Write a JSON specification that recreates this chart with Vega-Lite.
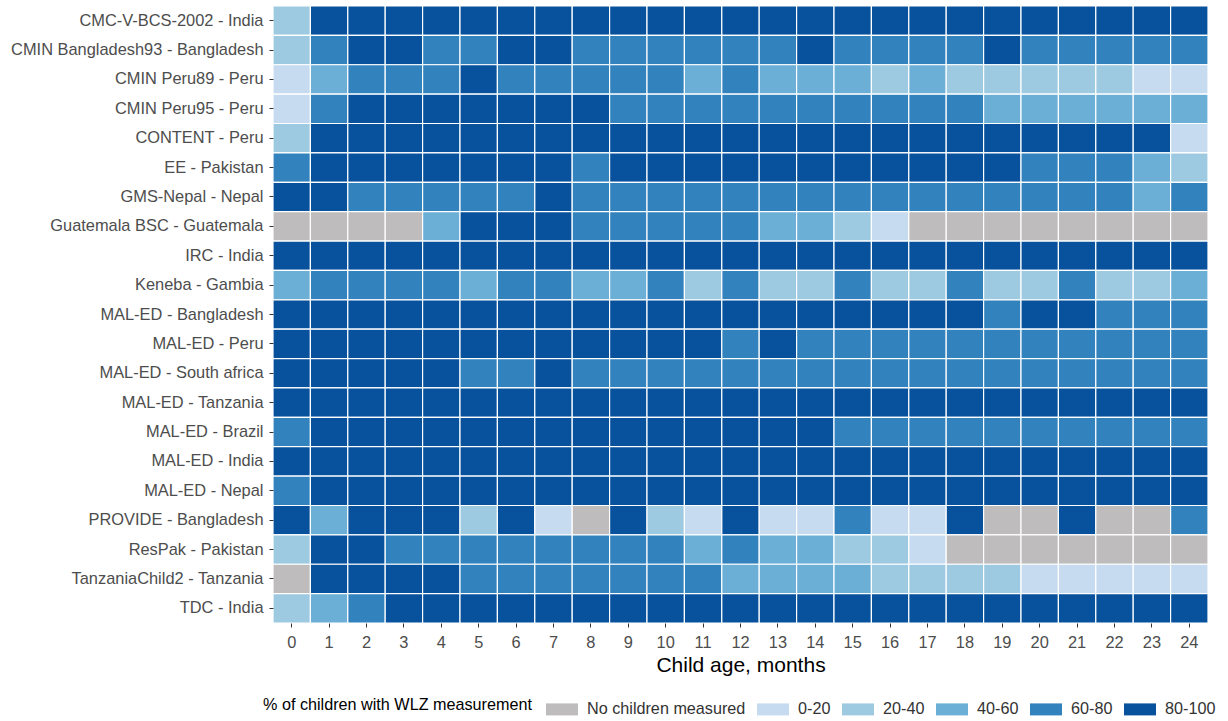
{
"$schema": "https://vega.github.io/schema/vega-lite/v6.json",
"width": 935, "height": 617,
"padding": {"left": 10, "top": 5, "right": 5, "bottom": 5},
"background": "white",
"config": {"view": {"stroke": null}, "font": "Liberation Sans"},
"data": {"values": [
{"study":"CMC-V-BCS-2002 - India","age":0,"pct":"20-40"},{"study":"CMC-V-BCS-2002 - India","age":1,"pct":"80-100"},{"study":"CMC-V-BCS-2002 - India","age":2,"pct":"80-100"},{"study":"CMC-V-BCS-2002 - India","age":3,"pct":"80-100"},{"study":"CMC-V-BCS-2002 - India","age":4,"pct":"80-100"},{"study":"CMC-V-BCS-2002 - India","age":5,"pct":"80-100"},{"study":"CMC-V-BCS-2002 - India","age":6,"pct":"80-100"},{"study":"CMC-V-BCS-2002 - India","age":7,"pct":"80-100"},{"study":"CMC-V-BCS-2002 - India","age":8,"pct":"80-100"},{"study":"CMC-V-BCS-2002 - India","age":9,"pct":"80-100"},{"study":"CMC-V-BCS-2002 - India","age":10,"pct":"80-100"},{"study":"CMC-V-BCS-2002 - India","age":11,"pct":"80-100"},{"study":"CMC-V-BCS-2002 - India","age":12,"pct":"80-100"},{"study":"CMC-V-BCS-2002 - India","age":13,"pct":"80-100"},{"study":"CMC-V-BCS-2002 - India","age":14,"pct":"80-100"},{"study":"CMC-V-BCS-2002 - India","age":15,"pct":"80-100"},{"study":"CMC-V-BCS-2002 - India","age":16,"pct":"80-100"},{"study":"CMC-V-BCS-2002 - India","age":17,"pct":"80-100"},{"study":"CMC-V-BCS-2002 - India","age":18,"pct":"80-100"},{"study":"CMC-V-BCS-2002 - India","age":19,"pct":"80-100"},{"study":"CMC-V-BCS-2002 - India","age":20,"pct":"80-100"},{"study":"CMC-V-BCS-2002 - India","age":21,"pct":"80-100"},{"study":"CMC-V-BCS-2002 - India","age":22,"pct":"80-100"},{"study":"CMC-V-BCS-2002 - India","age":23,"pct":"80-100"},{"study":"CMC-V-BCS-2002 - India","age":24,"pct":"80-100"},
{"study":"CMIN Bangladesh93 - Bangladesh","age":0,"pct":"20-40"},{"study":"CMIN Bangladesh93 - Bangladesh","age":1,"pct":"60-80"},{"study":"CMIN Bangladesh93 - Bangladesh","age":2,"pct":"80-100"},{"study":"CMIN Bangladesh93 - Bangladesh","age":3,"pct":"80-100"},{"study":"CMIN Bangladesh93 - Bangladesh","age":4,"pct":"60-80"},{"study":"CMIN Bangladesh93 - Bangladesh","age":5,"pct":"60-80"},{"study":"CMIN Bangladesh93 - Bangladesh","age":6,"pct":"80-100"},{"study":"CMIN Bangladesh93 - Bangladesh","age":7,"pct":"80-100"},{"study":"CMIN Bangladesh93 - Bangladesh","age":8,"pct":"60-80"},{"study":"CMIN Bangladesh93 - Bangladesh","age":9,"pct":"60-80"},{"study":"CMIN Bangladesh93 - Bangladesh","age":10,"pct":"60-80"},{"study":"CMIN Bangladesh93 - Bangladesh","age":11,"pct":"60-80"},{"study":"CMIN Bangladesh93 - Bangladesh","age":12,"pct":"60-80"},{"study":"CMIN Bangladesh93 - Bangladesh","age":13,"pct":"60-80"},{"study":"CMIN Bangladesh93 - Bangladesh","age":14,"pct":"80-100"},{"study":"CMIN Bangladesh93 - Bangladesh","age":15,"pct":"60-80"},{"study":"CMIN Bangladesh93 - Bangladesh","age":16,"pct":"60-80"},{"study":"CMIN Bangladesh93 - Bangladesh","age":17,"pct":"60-80"},{"study":"CMIN Bangladesh93 - Bangladesh","age":18,"pct":"60-80"},{"study":"CMIN Bangladesh93 - Bangladesh","age":19,"pct":"80-100"},{"study":"CMIN Bangladesh93 - Bangladesh","age":20,"pct":"60-80"},{"study":"CMIN Bangladesh93 - Bangladesh","age":21,"pct":"60-80"},{"study":"CMIN Bangladesh93 - Bangladesh","age":22,"pct":"60-80"},{"study":"CMIN Bangladesh93 - Bangladesh","age":23,"pct":"60-80"},{"study":"CMIN Bangladesh93 - Bangladesh","age":24,"pct":"60-80"},
{"study":"CMIN Peru89 - Peru","age":0,"pct":"0-20"},{"study":"CMIN Peru89 - Peru","age":1,"pct":"40-60"},{"study":"CMIN Peru89 - Peru","age":2,"pct":"60-80"},{"study":"CMIN Peru89 - Peru","age":3,"pct":"60-80"},{"study":"CMIN Peru89 - Peru","age":4,"pct":"60-80"},{"study":"CMIN Peru89 - Peru","age":5,"pct":"80-100"},{"study":"CMIN Peru89 - Peru","age":6,"pct":"60-80"},{"study":"CMIN Peru89 - Peru","age":7,"pct":"60-80"},{"study":"CMIN Peru89 - Peru","age":8,"pct":"60-80"},{"study":"CMIN Peru89 - Peru","age":9,"pct":"60-80"},{"study":"CMIN Peru89 - Peru","age":10,"pct":"60-80"},{"study":"CMIN Peru89 - Peru","age":11,"pct":"40-60"},{"study":"CMIN Peru89 - Peru","age":12,"pct":"60-80"},{"study":"CMIN Peru89 - Peru","age":13,"pct":"40-60"},{"study":"CMIN Peru89 - Peru","age":14,"pct":"40-60"},{"study":"CMIN Peru89 - Peru","age":15,"pct":"40-60"},{"study":"CMIN Peru89 - Peru","age":16,"pct":"20-40"},{"study":"CMIN Peru89 - Peru","age":17,"pct":"40-60"},{"study":"CMIN Peru89 - Peru","age":18,"pct":"20-40"},{"study":"CMIN Peru89 - Peru","age":19,"pct":"20-40"},{"study":"CMIN Peru89 - Peru","age":20,"pct":"20-40"},{"study":"CMIN Peru89 - Peru","age":21,"pct":"20-40"},{"study":"CMIN Peru89 - Peru","age":22,"pct":"20-40"},{"study":"CMIN Peru89 - Peru","age":23,"pct":"0-20"},{"study":"CMIN Peru89 - Peru","age":24,"pct":"0-20"},
{"study":"CMIN Peru95 - Peru","age":0,"pct":"0-20"},{"study":"CMIN Peru95 - Peru","age":1,"pct":"60-80"},{"study":"CMIN Peru95 - Peru","age":2,"pct":"80-100"},{"study":"CMIN Peru95 - Peru","age":3,"pct":"80-100"},{"study":"CMIN Peru95 - Peru","age":4,"pct":"80-100"},{"study":"CMIN Peru95 - Peru","age":5,"pct":"80-100"},{"study":"CMIN Peru95 - Peru","age":6,"pct":"80-100"},{"study":"CMIN Peru95 - Peru","age":7,"pct":"80-100"},{"study":"CMIN Peru95 - Peru","age":8,"pct":"80-100"},{"study":"CMIN Peru95 - Peru","age":9,"pct":"60-80"},{"study":"CMIN Peru95 - Peru","age":10,"pct":"60-80"},{"study":"CMIN Peru95 - Peru","age":11,"pct":"60-80"},{"study":"CMIN Peru95 - Peru","age":12,"pct":"60-80"},{"study":"CMIN Peru95 - Peru","age":13,"pct":"60-80"},{"study":"CMIN Peru95 - Peru","age":14,"pct":"60-80"},{"study":"CMIN Peru95 - Peru","age":15,"pct":"60-80"},{"study":"CMIN Peru95 - Peru","age":16,"pct":"60-80"},{"study":"CMIN Peru95 - Peru","age":17,"pct":"60-80"},{"study":"CMIN Peru95 - Peru","age":18,"pct":"60-80"},{"study":"CMIN Peru95 - Peru","age":19,"pct":"40-60"},{"study":"CMIN Peru95 - Peru","age":20,"pct":"40-60"},{"study":"CMIN Peru95 - Peru","age":21,"pct":"40-60"},{"study":"CMIN Peru95 - Peru","age":22,"pct":"40-60"},{"study":"CMIN Peru95 - Peru","age":23,"pct":"40-60"},{"study":"CMIN Peru95 - Peru","age":24,"pct":"40-60"},
{"study":"CONTENT - Peru","age":0,"pct":"20-40"},{"study":"CONTENT - Peru","age":1,"pct":"80-100"},{"study":"CONTENT - Peru","age":2,"pct":"80-100"},{"study":"CONTENT - Peru","age":3,"pct":"80-100"},{"study":"CONTENT - Peru","age":4,"pct":"80-100"},{"study":"CONTENT - Peru","age":5,"pct":"80-100"},{"study":"CONTENT - Peru","age":6,"pct":"80-100"},{"study":"CONTENT - Peru","age":7,"pct":"80-100"},{"study":"CONTENT - Peru","age":8,"pct":"80-100"},{"study":"CONTENT - Peru","age":9,"pct":"80-100"},{"study":"CONTENT - Peru","age":10,"pct":"80-100"},{"study":"CONTENT - Peru","age":11,"pct":"80-100"},{"study":"CONTENT - Peru","age":12,"pct":"80-100"},{"study":"CONTENT - Peru","age":13,"pct":"80-100"},{"study":"CONTENT - Peru","age":14,"pct":"80-100"},{"study":"CONTENT - Peru","age":15,"pct":"80-100"},{"study":"CONTENT - Peru","age":16,"pct":"80-100"},{"study":"CONTENT - Peru","age":17,"pct":"80-100"},{"study":"CONTENT - Peru","age":18,"pct":"80-100"},{"study":"CONTENT - Peru","age":19,"pct":"80-100"},{"study":"CONTENT - Peru","age":20,"pct":"80-100"},{"study":"CONTENT - Peru","age":21,"pct":"80-100"},{"study":"CONTENT - Peru","age":22,"pct":"80-100"},{"study":"CONTENT - Peru","age":23,"pct":"80-100"},{"study":"CONTENT - Peru","age":24,"pct":"0-20"},
{"study":"EE - Pakistan","age":0,"pct":"60-80"},{"study":"EE - Pakistan","age":1,"pct":"80-100"},{"study":"EE - Pakistan","age":2,"pct":"80-100"},{"study":"EE - Pakistan","age":3,"pct":"80-100"},{"study":"EE - Pakistan","age":4,"pct":"80-100"},{"study":"EE - Pakistan","age":5,"pct":"80-100"},{"study":"EE - Pakistan","age":6,"pct":"80-100"},{"study":"EE - Pakistan","age":7,"pct":"80-100"},{"study":"EE - Pakistan","age":8,"pct":"60-80"},{"study":"EE - Pakistan","age":9,"pct":"80-100"},{"study":"EE - Pakistan","age":10,"pct":"80-100"},{"study":"EE - Pakistan","age":11,"pct":"80-100"},{"study":"EE - Pakistan","age":12,"pct":"80-100"},{"study":"EE - Pakistan","age":13,"pct":"80-100"},{"study":"EE - Pakistan","age":14,"pct":"80-100"},{"study":"EE - Pakistan","age":15,"pct":"80-100"},{"study":"EE - Pakistan","age":16,"pct":"80-100"},{"study":"EE - Pakistan","age":17,"pct":"80-100"},{"study":"EE - Pakistan","age":18,"pct":"80-100"},{"study":"EE - Pakistan","age":19,"pct":"80-100"},{"study":"EE - Pakistan","age":20,"pct":"60-80"},{"study":"EE - Pakistan","age":21,"pct":"60-80"},{"study":"EE - Pakistan","age":22,"pct":"60-80"},{"study":"EE - Pakistan","age":23,"pct":"40-60"},{"study":"EE - Pakistan","age":24,"pct":"20-40"},
{"study":"GMS-Nepal - Nepal","age":0,"pct":"80-100"},{"study":"GMS-Nepal - Nepal","age":1,"pct":"80-100"},{"study":"GMS-Nepal - Nepal","age":2,"pct":"60-80"},{"study":"GMS-Nepal - Nepal","age":3,"pct":"60-80"},{"study":"GMS-Nepal - Nepal","age":4,"pct":"60-80"},{"study":"GMS-Nepal - Nepal","age":5,"pct":"60-80"},{"study":"GMS-Nepal - Nepal","age":6,"pct":"60-80"},{"study":"GMS-Nepal - Nepal","age":7,"pct":"80-100"},{"study":"GMS-Nepal - Nepal","age":8,"pct":"60-80"},{"study":"GMS-Nepal - Nepal","age":9,"pct":"60-80"},{"study":"GMS-Nepal - Nepal","age":10,"pct":"60-80"},{"study":"GMS-Nepal - Nepal","age":11,"pct":"60-80"},{"study":"GMS-Nepal - Nepal","age":12,"pct":"60-80"},{"study":"GMS-Nepal - Nepal","age":13,"pct":"60-80"},{"study":"GMS-Nepal - Nepal","age":14,"pct":"60-80"},{"study":"GMS-Nepal - Nepal","age":15,"pct":"60-80"},{"study":"GMS-Nepal - Nepal","age":16,"pct":"60-80"},{"study":"GMS-Nepal - Nepal","age":17,"pct":"60-80"},{"study":"GMS-Nepal - Nepal","age":18,"pct":"60-80"},{"study":"GMS-Nepal - Nepal","age":19,"pct":"60-80"},{"study":"GMS-Nepal - Nepal","age":20,"pct":"60-80"},{"study":"GMS-Nepal - Nepal","age":21,"pct":"60-80"},{"study":"GMS-Nepal - Nepal","age":22,"pct":"60-80"},{"study":"GMS-Nepal - Nepal","age":23,"pct":"40-60"},{"study":"GMS-Nepal - Nepal","age":24,"pct":"60-80"},
{"study":"Guatemala BSC - Guatemala","age":0,"pct":"none"},{"study":"Guatemala BSC - Guatemala","age":1,"pct":"none"},{"study":"Guatemala BSC - Guatemala","age":2,"pct":"none"},{"study":"Guatemala BSC - Guatemala","age":3,"pct":"none"},{"study":"Guatemala BSC - Guatemala","age":4,"pct":"40-60"},{"study":"Guatemala BSC - Guatemala","age":5,"pct":"80-100"},{"study":"Guatemala BSC - Guatemala","age":6,"pct":"80-100"},{"study":"Guatemala BSC - Guatemala","age":7,"pct":"80-100"},{"study":"Guatemala BSC - Guatemala","age":8,"pct":"60-80"},{"study":"Guatemala BSC - Guatemala","age":9,"pct":"60-80"},{"study":"Guatemala BSC - Guatemala","age":10,"pct":"60-80"},{"study":"Guatemala BSC - Guatemala","age":11,"pct":"60-80"},{"study":"Guatemala BSC - Guatemala","age":12,"pct":"60-80"},{"study":"Guatemala BSC - Guatemala","age":13,"pct":"40-60"},{"study":"Guatemala BSC - Guatemala","age":14,"pct":"40-60"},{"study":"Guatemala BSC - Guatemala","age":15,"pct":"20-40"},{"study":"Guatemala BSC - Guatemala","age":16,"pct":"0-20"},{"study":"Guatemala BSC - Guatemala","age":17,"pct":"none"},{"study":"Guatemala BSC - Guatemala","age":18,"pct":"none"},{"study":"Guatemala BSC - Guatemala","age":19,"pct":"none"},{"study":"Guatemala BSC - Guatemala","age":20,"pct":"none"},{"study":"Guatemala BSC - Guatemala","age":21,"pct":"none"},{"study":"Guatemala BSC - Guatemala","age":22,"pct":"none"},{"study":"Guatemala BSC - Guatemala","age":23,"pct":"none"},{"study":"Guatemala BSC - Guatemala","age":24,"pct":"none"},
{"study":"IRC - India","age":0,"pct":"80-100"},{"study":"IRC - India","age":1,"pct":"80-100"},{"study":"IRC - India","age":2,"pct":"80-100"},{"study":"IRC - India","age":3,"pct":"80-100"},{"study":"IRC - India","age":4,"pct":"80-100"},{"study":"IRC - India","age":5,"pct":"80-100"},{"study":"IRC - India","age":6,"pct":"80-100"},{"study":"IRC - India","age":7,"pct":"80-100"},{"study":"IRC - India","age":8,"pct":"80-100"},{"study":"IRC - India","age":9,"pct":"80-100"},{"study":"IRC - India","age":10,"pct":"80-100"},{"study":"IRC - India","age":11,"pct":"80-100"},{"study":"IRC - India","age":12,"pct":"80-100"},{"study":"IRC - India","age":13,"pct":"80-100"},{"study":"IRC - India","age":14,"pct":"80-100"},{"study":"IRC - India","age":15,"pct":"80-100"},{"study":"IRC - India","age":16,"pct":"80-100"},{"study":"IRC - India","age":17,"pct":"80-100"},{"study":"IRC - India","age":18,"pct":"80-100"},{"study":"IRC - India","age":19,"pct":"80-100"},{"study":"IRC - India","age":20,"pct":"80-100"},{"study":"IRC - India","age":21,"pct":"80-100"},{"study":"IRC - India","age":22,"pct":"80-100"},{"study":"IRC - India","age":23,"pct":"80-100"},{"study":"IRC - India","age":24,"pct":"80-100"},
{"study":"Keneba - Gambia","age":0,"pct":"40-60"},{"study":"Keneba - Gambia","age":1,"pct":"60-80"},{"study":"Keneba - Gambia","age":2,"pct":"60-80"},{"study":"Keneba - Gambia","age":3,"pct":"60-80"},{"study":"Keneba - Gambia","age":4,"pct":"60-80"},{"study":"Keneba - Gambia","age":5,"pct":"40-60"},{"study":"Keneba - Gambia","age":6,"pct":"60-80"},{"study":"Keneba - Gambia","age":7,"pct":"60-80"},{"study":"Keneba - Gambia","age":8,"pct":"40-60"},{"study":"Keneba - Gambia","age":9,"pct":"40-60"},{"study":"Keneba - Gambia","age":10,"pct":"60-80"},{"study":"Keneba - Gambia","age":11,"pct":"20-40"},{"study":"Keneba - Gambia","age":12,"pct":"60-80"},{"study":"Keneba - Gambia","age":13,"pct":"20-40"},{"study":"Keneba - Gambia","age":14,"pct":"20-40"},{"study":"Keneba - Gambia","age":15,"pct":"60-80"},{"study":"Keneba - Gambia","age":16,"pct":"20-40"},{"study":"Keneba - Gambia","age":17,"pct":"20-40"},{"study":"Keneba - Gambia","age":18,"pct":"60-80"},{"study":"Keneba - Gambia","age":19,"pct":"20-40"},{"study":"Keneba - Gambia","age":20,"pct":"20-40"},{"study":"Keneba - Gambia","age":21,"pct":"60-80"},{"study":"Keneba - Gambia","age":22,"pct":"20-40"},{"study":"Keneba - Gambia","age":23,"pct":"20-40"},{"study":"Keneba - Gambia","age":24,"pct":"40-60"},
{"study":"MAL-ED - Bangladesh","age":0,"pct":"80-100"},{"study":"MAL-ED - Bangladesh","age":1,"pct":"80-100"},{"study":"MAL-ED - Bangladesh","age":2,"pct":"80-100"},{"study":"MAL-ED - Bangladesh","age":3,"pct":"80-100"},{"study":"MAL-ED - Bangladesh","age":4,"pct":"80-100"},{"study":"MAL-ED - Bangladesh","age":5,"pct":"80-100"},{"study":"MAL-ED - Bangladesh","age":6,"pct":"80-100"},{"study":"MAL-ED - Bangladesh","age":7,"pct":"80-100"},{"study":"MAL-ED - Bangladesh","age":8,"pct":"80-100"},{"study":"MAL-ED - Bangladesh","age":9,"pct":"80-100"},{"study":"MAL-ED - Bangladesh","age":10,"pct":"80-100"},{"study":"MAL-ED - Bangladesh","age":11,"pct":"80-100"},{"study":"MAL-ED - Bangladesh","age":12,"pct":"80-100"},{"study":"MAL-ED - Bangladesh","age":13,"pct":"80-100"},{"study":"MAL-ED - Bangladesh","age":14,"pct":"80-100"},{"study":"MAL-ED - Bangladesh","age":15,"pct":"80-100"},{"study":"MAL-ED - Bangladesh","age":16,"pct":"80-100"},{"study":"MAL-ED - Bangladesh","age":17,"pct":"80-100"},{"study":"MAL-ED - Bangladesh","age":18,"pct":"80-100"},{"study":"MAL-ED - Bangladesh","age":19,"pct":"60-80"},{"study":"MAL-ED - Bangladesh","age":20,"pct":"80-100"},{"study":"MAL-ED - Bangladesh","age":21,"pct":"80-100"},{"study":"MAL-ED - Bangladesh","age":22,"pct":"60-80"},{"study":"MAL-ED - Bangladesh","age":23,"pct":"60-80"},{"study":"MAL-ED - Bangladesh","age":24,"pct":"60-80"},
{"study":"MAL-ED - Peru","age":0,"pct":"80-100"},{"study":"MAL-ED - Peru","age":1,"pct":"80-100"},{"study":"MAL-ED - Peru","age":2,"pct":"80-100"},{"study":"MAL-ED - Peru","age":3,"pct":"80-100"},{"study":"MAL-ED - Peru","age":4,"pct":"80-100"},{"study":"MAL-ED - Peru","age":5,"pct":"80-100"},{"study":"MAL-ED - Peru","age":6,"pct":"80-100"},{"study":"MAL-ED - Peru","age":7,"pct":"80-100"},{"study":"MAL-ED - Peru","age":8,"pct":"80-100"},{"study":"MAL-ED - Peru","age":9,"pct":"80-100"},{"study":"MAL-ED - Peru","age":10,"pct":"80-100"},{"study":"MAL-ED - Peru","age":11,"pct":"80-100"},{"study":"MAL-ED - Peru","age":12,"pct":"60-80"},{"study":"MAL-ED - Peru","age":13,"pct":"80-100"},{"study":"MAL-ED - Peru","age":14,"pct":"60-80"},{"study":"MAL-ED - Peru","age":15,"pct":"60-80"},{"study":"MAL-ED - Peru","age":16,"pct":"60-80"},{"study":"MAL-ED - Peru","age":17,"pct":"60-80"},{"study":"MAL-ED - Peru","age":18,"pct":"60-80"},{"study":"MAL-ED - Peru","age":19,"pct":"60-80"},{"study":"MAL-ED - Peru","age":20,"pct":"60-80"},{"study":"MAL-ED - Peru","age":21,"pct":"60-80"},{"study":"MAL-ED - Peru","age":22,"pct":"60-80"},{"study":"MAL-ED - Peru","age":23,"pct":"60-80"},{"study":"MAL-ED - Peru","age":24,"pct":"60-80"},
{"study":"MAL-ED - South africa","age":0,"pct":"80-100"},{"study":"MAL-ED - South africa","age":1,"pct":"80-100"},{"study":"MAL-ED - South africa","age":2,"pct":"80-100"},{"study":"MAL-ED - South africa","age":3,"pct":"80-100"},{"study":"MAL-ED - South africa","age":4,"pct":"80-100"},{"study":"MAL-ED - South africa","age":5,"pct":"60-80"},{"study":"MAL-ED - South africa","age":6,"pct":"60-80"},{"study":"MAL-ED - South africa","age":7,"pct":"80-100"},{"study":"MAL-ED - South africa","age":8,"pct":"60-80"},{"study":"MAL-ED - South africa","age":9,"pct":"60-80"},{"study":"MAL-ED - South africa","age":10,"pct":"60-80"},{"study":"MAL-ED - South africa","age":11,"pct":"60-80"},{"study":"MAL-ED - South africa","age":12,"pct":"60-80"},{"study":"MAL-ED - South africa","age":13,"pct":"60-80"},{"study":"MAL-ED - South africa","age":14,"pct":"60-80"},{"study":"MAL-ED - South africa","age":15,"pct":"60-80"},{"study":"MAL-ED - South africa","age":16,"pct":"60-80"},{"study":"MAL-ED - South africa","age":17,"pct":"60-80"},{"study":"MAL-ED - South africa","age":18,"pct":"60-80"},{"study":"MAL-ED - South africa","age":19,"pct":"60-80"},{"study":"MAL-ED - South africa","age":20,"pct":"60-80"},{"study":"MAL-ED - South africa","age":21,"pct":"60-80"},{"study":"MAL-ED - South africa","age":22,"pct":"60-80"},{"study":"MAL-ED - South africa","age":23,"pct":"60-80"},{"study":"MAL-ED - South africa","age":24,"pct":"60-80"},
{"study":"MAL-ED - Tanzania","age":0,"pct":"80-100"},{"study":"MAL-ED - Tanzania","age":1,"pct":"80-100"},{"study":"MAL-ED - Tanzania","age":2,"pct":"80-100"},{"study":"MAL-ED - Tanzania","age":3,"pct":"80-100"},{"study":"MAL-ED - Tanzania","age":4,"pct":"80-100"},{"study":"MAL-ED - Tanzania","age":5,"pct":"80-100"},{"study":"MAL-ED - Tanzania","age":6,"pct":"80-100"},{"study":"MAL-ED - Tanzania","age":7,"pct":"80-100"},{"study":"MAL-ED - Tanzania","age":8,"pct":"80-100"},{"study":"MAL-ED - Tanzania","age":9,"pct":"80-100"},{"study":"MAL-ED - Tanzania","age":10,"pct":"80-100"},{"study":"MAL-ED - Tanzania","age":11,"pct":"80-100"},{"study":"MAL-ED - Tanzania","age":12,"pct":"80-100"},{"study":"MAL-ED - Tanzania","age":13,"pct":"80-100"},{"study":"MAL-ED - Tanzania","age":14,"pct":"80-100"},{"study":"MAL-ED - Tanzania","age":15,"pct":"80-100"},{"study":"MAL-ED - Tanzania","age":16,"pct":"80-100"},{"study":"MAL-ED - Tanzania","age":17,"pct":"80-100"},{"study":"MAL-ED - Tanzania","age":18,"pct":"80-100"},{"study":"MAL-ED - Tanzania","age":19,"pct":"80-100"},{"study":"MAL-ED - Tanzania","age":20,"pct":"80-100"},{"study":"MAL-ED - Tanzania","age":21,"pct":"80-100"},{"study":"MAL-ED - Tanzania","age":22,"pct":"80-100"},{"study":"MAL-ED - Tanzania","age":23,"pct":"80-100"},{"study":"MAL-ED - Tanzania","age":24,"pct":"80-100"},
{"study":"MAL-ED - Brazil","age":0,"pct":"60-80"},{"study":"MAL-ED - Brazil","age":1,"pct":"80-100"},{"study":"MAL-ED - Brazil","age":2,"pct":"80-100"},{"study":"MAL-ED - Brazil","age":3,"pct":"80-100"},{"study":"MAL-ED - Brazil","age":4,"pct":"80-100"},{"study":"MAL-ED - Brazil","age":5,"pct":"80-100"},{"study":"MAL-ED - Brazil","age":6,"pct":"80-100"},{"study":"MAL-ED - Brazil","age":7,"pct":"80-100"},{"study":"MAL-ED - Brazil","age":8,"pct":"80-100"},{"study":"MAL-ED - Brazil","age":9,"pct":"80-100"},{"study":"MAL-ED - Brazil","age":10,"pct":"80-100"},{"study":"MAL-ED - Brazil","age":11,"pct":"80-100"},{"study":"MAL-ED - Brazil","age":12,"pct":"80-100"},{"study":"MAL-ED - Brazil","age":13,"pct":"80-100"},{"study":"MAL-ED - Brazil","age":14,"pct":"80-100"},{"study":"MAL-ED - Brazil","age":15,"pct":"60-80"},{"study":"MAL-ED - Brazil","age":16,"pct":"60-80"},{"study":"MAL-ED - Brazil","age":17,"pct":"60-80"},{"study":"MAL-ED - Brazil","age":18,"pct":"60-80"},{"study":"MAL-ED - Brazil","age":19,"pct":"60-80"},{"study":"MAL-ED - Brazil","age":20,"pct":"60-80"},{"study":"MAL-ED - Brazil","age":21,"pct":"60-80"},{"study":"MAL-ED - Brazil","age":22,"pct":"60-80"},{"study":"MAL-ED - Brazil","age":23,"pct":"60-80"},{"study":"MAL-ED - Brazil","age":24,"pct":"60-80"},
{"study":"MAL-ED - India","age":0,"pct":"80-100"},{"study":"MAL-ED - India","age":1,"pct":"80-100"},{"study":"MAL-ED - India","age":2,"pct":"80-100"},{"study":"MAL-ED - India","age":3,"pct":"80-100"},{"study":"MAL-ED - India","age":4,"pct":"80-100"},{"study":"MAL-ED - India","age":5,"pct":"80-100"},{"study":"MAL-ED - India","age":6,"pct":"80-100"},{"study":"MAL-ED - India","age":7,"pct":"80-100"},{"study":"MAL-ED - India","age":8,"pct":"80-100"},{"study":"MAL-ED - India","age":9,"pct":"80-100"},{"study":"MAL-ED - India","age":10,"pct":"80-100"},{"study":"MAL-ED - India","age":11,"pct":"80-100"},{"study":"MAL-ED - India","age":12,"pct":"80-100"},{"study":"MAL-ED - India","age":13,"pct":"80-100"},{"study":"MAL-ED - India","age":14,"pct":"80-100"},{"study":"MAL-ED - India","age":15,"pct":"80-100"},{"study":"MAL-ED - India","age":16,"pct":"80-100"},{"study":"MAL-ED - India","age":17,"pct":"80-100"},{"study":"MAL-ED - India","age":18,"pct":"80-100"},{"study":"MAL-ED - India","age":19,"pct":"80-100"},{"study":"MAL-ED - India","age":20,"pct":"80-100"},{"study":"MAL-ED - India","age":21,"pct":"80-100"},{"study":"MAL-ED - India","age":22,"pct":"80-100"},{"study":"MAL-ED - India","age":23,"pct":"80-100"},{"study":"MAL-ED - India","age":24,"pct":"80-100"},
{"study":"MAL-ED - Nepal","age":0,"pct":"60-80"},{"study":"MAL-ED - Nepal","age":1,"pct":"80-100"},{"study":"MAL-ED - Nepal","age":2,"pct":"80-100"},{"study":"MAL-ED - Nepal","age":3,"pct":"80-100"},{"study":"MAL-ED - Nepal","age":4,"pct":"80-100"},{"study":"MAL-ED - Nepal","age":5,"pct":"80-100"},{"study":"MAL-ED - Nepal","age":6,"pct":"80-100"},{"study":"MAL-ED - Nepal","age":7,"pct":"80-100"},{"study":"MAL-ED - Nepal","age":8,"pct":"80-100"},{"study":"MAL-ED - Nepal","age":9,"pct":"80-100"},{"study":"MAL-ED - Nepal","age":10,"pct":"80-100"},{"study":"MAL-ED - Nepal","age":11,"pct":"80-100"},{"study":"MAL-ED - Nepal","age":12,"pct":"80-100"},{"study":"MAL-ED - Nepal","age":13,"pct":"80-100"},{"study":"MAL-ED - Nepal","age":14,"pct":"80-100"},{"study":"MAL-ED - Nepal","age":15,"pct":"80-100"},{"study":"MAL-ED - Nepal","age":16,"pct":"80-100"},{"study":"MAL-ED - Nepal","age":17,"pct":"80-100"},{"study":"MAL-ED - Nepal","age":18,"pct":"80-100"},{"study":"MAL-ED - Nepal","age":19,"pct":"80-100"},{"study":"MAL-ED - Nepal","age":20,"pct":"80-100"},{"study":"MAL-ED - Nepal","age":21,"pct":"80-100"},{"study":"MAL-ED - Nepal","age":22,"pct":"80-100"},{"study":"MAL-ED - Nepal","age":23,"pct":"80-100"},{"study":"MAL-ED - Nepal","age":24,"pct":"80-100"},
{"study":"PROVIDE - Bangladesh","age":0,"pct":"80-100"},{"study":"PROVIDE - Bangladesh","age":1,"pct":"40-60"},{"study":"PROVIDE - Bangladesh","age":2,"pct":"80-100"},{"study":"PROVIDE - Bangladesh","age":3,"pct":"80-100"},{"study":"PROVIDE - Bangladesh","age":4,"pct":"80-100"},{"study":"PROVIDE - Bangladesh","age":5,"pct":"20-40"},{"study":"PROVIDE - Bangladesh","age":6,"pct":"80-100"},{"study":"PROVIDE - Bangladesh","age":7,"pct":"0-20"},{"study":"PROVIDE - Bangladesh","age":8,"pct":"none"},{"study":"PROVIDE - Bangladesh","age":9,"pct":"80-100"},{"study":"PROVIDE - Bangladesh","age":10,"pct":"20-40"},{"study":"PROVIDE - Bangladesh","age":11,"pct":"0-20"},{"study":"PROVIDE - Bangladesh","age":12,"pct":"80-100"},{"study":"PROVIDE - Bangladesh","age":13,"pct":"0-20"},{"study":"PROVIDE - Bangladesh","age":14,"pct":"0-20"},{"study":"PROVIDE - Bangladesh","age":15,"pct":"60-80"},{"study":"PROVIDE - Bangladesh","age":16,"pct":"0-20"},{"study":"PROVIDE - Bangladesh","age":17,"pct":"0-20"},{"study":"PROVIDE - Bangladesh","age":18,"pct":"80-100"},{"study":"PROVIDE - Bangladesh","age":19,"pct":"none"},{"study":"PROVIDE - Bangladesh","age":20,"pct":"none"},{"study":"PROVIDE - Bangladesh","age":21,"pct":"80-100"},{"study":"PROVIDE - Bangladesh","age":22,"pct":"none"},{"study":"PROVIDE - Bangladesh","age":23,"pct":"none"},{"study":"PROVIDE - Bangladesh","age":24,"pct":"60-80"},
{"study":"ResPak - Pakistan","age":0,"pct":"20-40"},{"study":"ResPak - Pakistan","age":1,"pct":"80-100"},{"study":"ResPak - Pakistan","age":2,"pct":"80-100"},{"study":"ResPak - Pakistan","age":3,"pct":"60-80"},{"study":"ResPak - Pakistan","age":4,"pct":"60-80"},{"study":"ResPak - Pakistan","age":5,"pct":"60-80"},{"study":"ResPak - Pakistan","age":6,"pct":"60-80"},{"study":"ResPak - Pakistan","age":7,"pct":"60-80"},{"study":"ResPak - Pakistan","age":8,"pct":"60-80"},{"study":"ResPak - Pakistan","age":9,"pct":"60-80"},{"study":"ResPak - Pakistan","age":10,"pct":"60-80"},{"study":"ResPak - Pakistan","age":11,"pct":"40-60"},{"study":"ResPak - Pakistan","age":12,"pct":"60-80"},{"study":"ResPak - Pakistan","age":13,"pct":"40-60"},{"study":"ResPak - Pakistan","age":14,"pct":"40-60"},{"study":"ResPak - Pakistan","age":15,"pct":"20-40"},{"study":"ResPak - Pakistan","age":16,"pct":"20-40"},{"study":"ResPak - Pakistan","age":17,"pct":"0-20"},{"study":"ResPak - Pakistan","age":18,"pct":"none"},{"study":"ResPak - Pakistan","age":19,"pct":"none"},{"study":"ResPak - Pakistan","age":20,"pct":"none"},{"study":"ResPak - Pakistan","age":21,"pct":"none"},{"study":"ResPak - Pakistan","age":22,"pct":"none"},{"study":"ResPak - Pakistan","age":23,"pct":"none"},{"study":"ResPak - Pakistan","age":24,"pct":"none"},
{"study":"TanzaniaChild2 - Tanzania","age":0,"pct":"none"},{"study":"TanzaniaChild2 - Tanzania","age":1,"pct":"80-100"},{"study":"TanzaniaChild2 - Tanzania","age":2,"pct":"80-100"},{"study":"TanzaniaChild2 - Tanzania","age":3,"pct":"80-100"},{"study":"TanzaniaChild2 - Tanzania","age":4,"pct":"80-100"},{"study":"TanzaniaChild2 - Tanzania","age":5,"pct":"60-80"},{"study":"TanzaniaChild2 - Tanzania","age":6,"pct":"60-80"},{"study":"TanzaniaChild2 - Tanzania","age":7,"pct":"60-80"},{"study":"TanzaniaChild2 - Tanzania","age":8,"pct":"60-80"},{"study":"TanzaniaChild2 - Tanzania","age":9,"pct":"60-80"},{"study":"TanzaniaChild2 - Tanzania","age":10,"pct":"60-80"},{"study":"TanzaniaChild2 - Tanzania","age":11,"pct":"60-80"},{"study":"TanzaniaChild2 - Tanzania","age":12,"pct":"40-60"},{"study":"TanzaniaChild2 - Tanzania","age":13,"pct":"40-60"},{"study":"TanzaniaChild2 - Tanzania","age":14,"pct":"40-60"},{"study":"TanzaniaChild2 - Tanzania","age":15,"pct":"40-60"},{"study":"TanzaniaChild2 - Tanzania","age":16,"pct":"20-40"},{"study":"TanzaniaChild2 - Tanzania","age":17,"pct":"20-40"},{"study":"TanzaniaChild2 - Tanzania","age":18,"pct":"20-40"},{"study":"TanzaniaChild2 - Tanzania","age":19,"pct":"20-40"},{"study":"TanzaniaChild2 - Tanzania","age":20,"pct":"0-20"},{"study":"TanzaniaChild2 - Tanzania","age":21,"pct":"0-20"},{"study":"TanzaniaChild2 - Tanzania","age":22,"pct":"0-20"},{"study":"TanzaniaChild2 - Tanzania","age":23,"pct":"0-20"},{"study":"TanzaniaChild2 - Tanzania","age":24,"pct":"0-20"},
{"study":"TDC - India","age":0,"pct":"20-40"},{"study":"TDC - India","age":1,"pct":"40-60"},{"study":"TDC - India","age":2,"pct":"60-80"},{"study":"TDC - India","age":3,"pct":"80-100"},{"study":"TDC - India","age":4,"pct":"80-100"},{"study":"TDC - India","age":5,"pct":"80-100"},{"study":"TDC - India","age":6,"pct":"80-100"},{"study":"TDC - India","age":7,"pct":"80-100"},{"study":"TDC - India","age":8,"pct":"80-100"},{"study":"TDC - India","age":9,"pct":"80-100"},{"study":"TDC - India","age":10,"pct":"80-100"},{"study":"TDC - India","age":11,"pct":"80-100"},{"study":"TDC - India","age":12,"pct":"80-100"},{"study":"TDC - India","age":13,"pct":"80-100"},{"study":"TDC - India","age":14,"pct":"80-100"},{"study":"TDC - India","age":15,"pct":"80-100"},{"study":"TDC - India","age":16,"pct":"80-100"},{"study":"TDC - India","age":17,"pct":"80-100"},{"study":"TDC - India","age":18,"pct":"80-100"},{"study":"TDC - India","age":19,"pct":"80-100"},{"study":"TDC - India","age":20,"pct":"80-100"},{"study":"TDC - India","age":21,"pct":"80-100"},{"study":"TDC - India","age":22,"pct":"80-100"},{"study":"TDC - India","age":23,"pct":"80-100"},{"study":"TDC - India","age":24,"pct":"80-100"}
]},
"mark": {"type": "rect", "stroke": "white", "strokeWidth": 1.2},
"encoding": {
  "x": {"field": "age", "type": "ordinal", "sort": "ascending",
        "scale": {"paddingInner": 0, "paddingOuter": 0},
        "axis": {"title": "Child age, months", "labelAngle": 0, "domain": false, "grid": false,
                 "tickColor": "#333333", "tickSize": 4, "labelColor": "#4d4d4d", "labelFontSize": 16.4,
                 "labelPadding": 7, "titleFontSize": 21, "titleFontWeight": "normal", "titleColor": "#000000", "titlePadding": 4}},
  "y": {"field": "study", "type": "nominal",
        "sort": ["CMC-V-BCS-2002 - India","CMIN Bangladesh93 - Bangladesh","CMIN Peru89 - Peru","CMIN Peru95 - Peru","CONTENT - Peru","EE - Pakistan","GMS-Nepal - Nepal","Guatemala BSC - Guatemala","IRC - India","Keneba - Gambia","MAL-ED - Bangladesh","MAL-ED - Peru","MAL-ED - South africa","MAL-ED - Tanzania","MAL-ED - Brazil","MAL-ED - India","MAL-ED - Nepal","PROVIDE - Bangladesh","ResPak - Pakistan","TanzaniaChild2 - Tanzania","TDC - India"],
        "scale": {"paddingInner": 0, "paddingOuter": 0},
        "axis": {"title": null, "domain": false, "grid": false, "tickColor": "#333333", "tickSize": 4,
                 "labelColor": "#4d4d4d", "labelFontSize": 16.4, "labelPadding": 6, "labelLimit": 400}},
  "fill": {"field": "pct", "type": "nominal",
           "scale": {"domain": ["none","0-20","20-40","40-60","60-80","80-100"],
                     "range": ["#bebcbc","#c6dbef","#9ecae1","#6baed6","#3182bd","#08519c"]},
           "legend": {"title": "% of children with WLZ measurement", "orient": "none", "direction": "horizontal",
                      "legendX": -10, "legendY": 687, "titleOrient": "left", "titleAnchor": "middle", "titleBaseline": "middle",
                      "titleFontSize": 16.2, "titleFontWeight": "normal",
                      "titleColor": "#000000", "titlePadding": 14, "titleLimit": 500, "labelFontSize": 16.2, "labelColor": "#333333",
                      "labelOffset": 9, "columnPadding": 11, "symbolType": "M-1,-0.375H1V0.375H-1Z", "symbolSize": 1024,
                      "symbolStrokeWidth": 0, "symbolOpacity": 1, "labelLimit": 400,
                      "labelExpr": "datum.label == 'none' ? 'No children measured' : datum.label"}}
}
}
